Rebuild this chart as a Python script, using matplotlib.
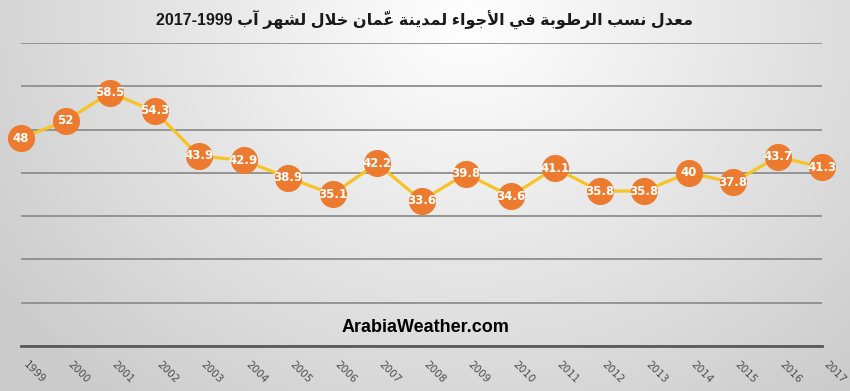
import matplotlib
matplotlib.use("Agg")
import matplotlib.pyplot as plt
import numpy as np

years = list(range(1999, 2018))
humidity = [48, 52, 58.5, 54.3, 43.9, 42.9, 38.9, 35.1, 42.2, 33.6,
            39.8, 34.6, 41.1, 35.8, 35.8, 40, 37.8, 43.7, 41.3]
title_ar = "معدل نسب الرطوبة في الأجواء لمدينة عمّان خلال لشهر آب"
title_years = "2017-1999"
watermark = "ArabiaWeather.com"

# --- minimal arabic shaping (matplotlib has no RTL / joining support) ---
FORMS = {  # iso, fin, ini, med
    'ء': ('\uFE80', None, None, None),
    'آ': ('\uFE81', '\uFE82', None, None),
    'أ': ('\uFE83', '\uFE84', None, None),
    'ا': ('\uFE8D', '\uFE8E', None, None),
    'ب': ('\uFE8F', '\uFE90', '\uFE91', '\uFE92'),
    'ة': ('\uFE93', '\uFE94', None, None),
    'ت': ('\uFE95', '\uFE96', '\uFE97', '\uFE98'),
    'ج': ('\uFE9D', '\uFE9E', '\uFE9F', '\uFEA0'),
    'خ': ('\uFEA5', '\uFEA6', '\uFEA7', '\uFEA8'),
    'د': ('\uFEA9', '\uFEAA', None, None),
    'ر': ('\uFEAD', '\uFEAE', None, None),
    'س': ('\uFEB1', '\uFEB2', '\uFEB3', '\uFEB4'),
    'ش': ('\uFEB5', '\uFEB6', '\uFEB7', '\uFEB8'),
    'ط': ('\uFEC1', '\uFEC2', '\uFEC3', '\uFEC4'),
    'ع': ('\uFEC9', '\uFECA', '\uFECB', '\uFECC'),
    'ف': ('\uFED1', '\uFED2', '\uFED3', '\uFED4'),
    'ل': ('\uFEDD', '\uFEDE', '\uFEDF', '\uFEE0'),
    'م': ('\uFEE1', '\uFEE2', '\uFEE3', '\uFEE4'),
    'ن': ('\uFEE5', '\uFEE6', '\uFEE7', '\uFEE8'),
    'ه': ('\uFEE9', '\uFEEA', '\uFEEB', '\uFEEC'),
    'و': ('\uFEED', '\uFEEE', None, None),
    'ي': ('\uFEF1', '\uFEF2', '\uFEF3', '\uFEF4'),
}
LAM_ALEF = {'ا': ('\uFEFB', '\uFEFC'), 'أ': ('\uFEF7', '\uFEF8'), 'آ': ('\uFEF5', '\uFEF6')}
MARKS = {'\u0651', '\u064E', '\u064F', '\u0650'}


def shape(text):
    # split into clusters: base letter + marks
    clusters = []
    for ch in text:
        if ch in MARKS and clusters:
            clusters[-1][1] += ch
        else:
            clusters.append([ch, ""])
    # lam-alef ligatures
    merged = []
    i = 0
    while i < len(clusters):
        c = clusters[i]
        if c[0] == 'ل' and i + 1 < len(clusters) and clusters[i + 1][0] in LAM_ALEF:
            merged.append(["LA" + clusters[i + 1][0], c[1] + clusters[i + 1][1]])
            i += 2
        else:
            merged.append(c)
            i += 1

    def joins_next(b):
        if b.startswith("LA"):
            return False
        f = FORMS.get(b)
        return f is not None and f[2] is not None

    def joins_prev(b):
        if b.startswith("LA"):
            return True
        f = FORMS.get(b)
        return f is not None and f[1] is not None

    out = []
    for i, (b, m) in enumerate(merged):
        prev_j = i > 0 and joins_next(merged[i - 1][0]) and joins_prev(b)
        next_j = i + 1 < len(merged) and joins_next(b) and joins_prev(merged[i + 1][0])
        if b.startswith("LA"):
            g = LAM_ALEF[b[2]][1 if prev_j else 0]
        elif b in FORMS:
            f = FORMS[b]
            if prev_j and next_j:
                g = f[3]
            elif prev_j:
                g = f[1]
            elif next_j:
                g = f[2]
            else:
                g = f[0]
        else:
            g = b
        out.append(g + m)
    return "".join(reversed(out))


fig = plt.figure(figsize=(8.5, 3.91), dpi=100)

# radial gray background
bg = fig.add_axes([0, 0, 1, 1], zorder=-10)
gx, gy = np.meshgrid(np.linspace(0, 1, 425), np.linspace(0, 1, 196))
r = np.sqrt(((gx - 0.55) * 1.5) ** 2 + ((gy - 0.05) * 0.8) ** 2)
shade = np.clip(1.0 - 0.2 * r, 0.8, 1.0)
bg.imshow(np.dstack([shade] * 3), aspect="auto", extent=[0, 1, 0, 1], origin="upper")
bg.axis("off")

ax = fig.add_axes([21 / 850, 1 - 346 / 391, 801 / 850, 303 / 391])
ax.patch.set_alpha(0)
ax.plot(years, humidity, color="#F7C325", lw=2.3, zorder=2)
ax.plot(years, humidity, "o", ms=18.5, color="#EC7B2F", mec="#EC7B2F", zorder=3)
for x, v in zip(years, humidity):
    ax.text(x, v, f"{v:g}", ha="center", va="center", color="white",
            fontsize=8.5, fontweight="bold", family="DejaVu Sans", zorder=4)

ax.set_xlim(1999, 2017)
ax.set_ylim(0, 70)
ax.set_yticks(range(0, 71, 10))
ax.yaxis.grid(True, color="#8e8e8e", lw=1.3)
ax.tick_params(left=False, labelleft=False, bottom=False, pad=6)
ax.set_xticks(years)
ax.set_xticklabels([str(y) for y in years], rotation=-45, ha="left", va="top",
                   fontsize=7.5, color="#4d4d4d")
for s in ["top", "left", "right"]:
    ax.spines[s].set_visible(False)
ax.spines["bottom"].set_color("#5a5a5a")
ax.spines["bottom"].set_linewidth(2)
ax.set_axisbelow(True)
for ln in ax.lines:
    ln.set_clip_on(False)

fig.text(0.5, 1 - 19 / 391, title_years + " " + shape(title_ar),
         ha="center", va="center", fontsize=11.5, fontweight="bold",
         color="#1a1a1a", family=["Liberation Sans", "DejaVu Sans"])
fig.text(425 / 850, 1 - 327 / 391, watermark, ha="center", va="center",
         fontsize=13, fontweight="bold", color="black", family="Liberation Sans")

plt.savefig("out.png", dpi=100)
